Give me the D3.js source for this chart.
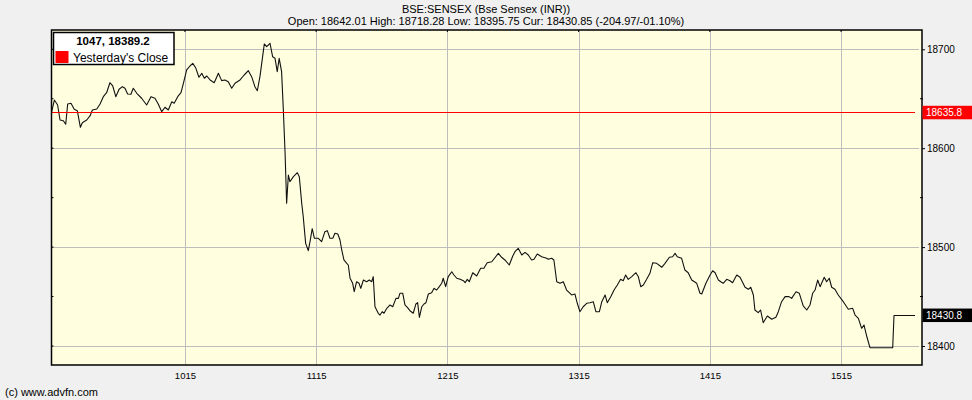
<!DOCTYPE html>
<html><head><meta charset="utf-8">
<script src="https://cdnjs.cloudflare.com/ajax/libs/d3/7.8.5/d3.min.js"></script>
<style>html,body{margin:0;padding:0;background:#f0f0f0;} svg{display:block;font-family:"Liberation Sans",Arial,sans-serif;}</style>
</head><body>
<svg id="c" width="972" height="400"></svg>
<script>
// time in minutes since midnight, value of index
const times = [554.1,555.3,556.8,557.9,559.4,560.5,561.4,562.9,564.4,565.8,567.2,568.1,570.1,571.6,572.7,574.7,576.2,577.7,579.2,580.7,582.0,583.4,584.9,586.4,587.6,588.8,590.3,591.4,593.0,595.2,597.5,599.5,601.3,602.8,604.4,605.9,607.4,609.0,610.1,611.7,613.2,614.3,615.8,617.3,618.6,619.9,621.4,622.7,623.9,625.0,626.5,628.4,630.3,631.8,633.3,634.8,636.4,637.9,640.2,642.1,644.0,645.5,647.0,648.1,649.3,651.3,652.4,653.9,655.1,656.2,657.2,658.1,659.2,660.0,660.8,661.5,662.3,663.0,664.6,666.4,667.3,668.4,669.1,670.2,671.4,672.2,673.2,674.2,676.0,677.5,679.0,680.1,681.3,682.6,683.6,684.9,685.9,686.7,687.7,689.0,689.7,690.5,691.7,692.4,693.5,694.6,695.4,696.6,698.1,699.3,700.4,701.1,701.9,703.4,704.2,705.2,706.0,707.3,708.8,710.0,711.5,712.6,713.3,714.6,715.6,716.7,717.9,719.4,720.6,721.4,722.2,723.3,724.3,725.2,726.3,727.8,728.9,730.1,731.3,732.4,733.1,734.2,735.4,737.0,738.0,739.3,740.8,742.3,743.1,744.1,745.0,746.6,748.4,750.2,751.7,753.2,755.3,758.3,759.8,761.3,763.3,764.9,765.9,767.4,769.0,770.5,772.0,773.5,774.6,776.1,778.1,780.4,781.1,782.7,783.7,785.0,786.5,788.0,789.5,791.8,793.3,794.4,795.6,797.1,798.7,800.2,801.7,802.9,804.5,805.6,807.1,808.1,809.7,811.2,812.7,814.2,815.4,816.5,817.7,819.3,821.2,822.3,823.4,824.6,826.1,827.6,828.9,830.7,833.0,834.5,836.5,838.0,839.1,840.1,842.1,843.6,845.1,846.7,849.0,850.5,851.3,853.2,855.1,856.3,857.4,858.9,860.0,861.1,862.7,864.2,865.4,867.3,868.8,871.1,872.6,873.7,874.9,875.6,877.1,878.2,879.4,881.3,883.3,885.2,886.3,887.8,889.4,891.2,892.4,894.4,895.9,897.7,899.3,900.8,902.0,903.1,904.3,905.4,907.3,908.4,909.6,910.7,912.2,913.7,916.0,918.3,920.3,921.4,922.9,924.4,925.5,926.7,928.2,938.6,939.2,948.8];
const values = [18636.9,18648.7,18643.7,18628.5,18627.8,18624.2,18644.7,18645.4,18639.3,18637.9,18621.1,18625.8,18628.5,18632.6,18638.6,18639.6,18644.7,18652.1,18656.1,18666.2,18662.9,18652.1,18659.6,18662.2,18660.6,18654.8,18654.5,18660.6,18655.5,18650.5,18643.7,18652.1,18650.5,18644.7,18636.9,18641.4,18638.6,18647.0,18645.4,18652.1,18656.1,18665.6,18679.1,18683.1,18685.8,18681.4,18671.7,18675.7,18670.7,18673.0,18669.0,18666.2,18675.7,18668.3,18669.0,18667.2,18660.6,18665.6,18669.0,18674.0,18678.4,18672.3,18662.2,18658.1,18672.3,18705.4,18702.6,18706.1,18692.5,18690.9,18677.4,18690.9,18677.4,18638.6,18594.8,18544.3,18572.9,18566.1,18571.2,18575.2,18571.2,18544.3,18530.7,18503.8,18496.4,18505.5,18518.6,18508.9,18508.9,18505.5,18515.6,18516.6,18508.9,18508.9,18514.0,18513.2,18507.2,18497.1,18487.0,18483.6,18481.9,18468.5,18463.4,18454.9,18465.0,18463.4,18458.3,18466.7,18465.0,18466.7,18465.0,18470.1,18439.7,18433.1,18431.3,18434.7,18433.1,18438.1,18441.5,18439.7,18448.2,18448.2,18453.3,18453.3,18441.5,18439.1,18435.7,18433.1,18442.5,18443.8,18429.0,18439.7,18442.5,18443.8,18452.6,18453.9,18458.3,18456.6,18460.0,18463.4,18468.5,18460.0,18470.1,18475.1,18471.8,18468.5,18467.4,18466.0,18464.0,18467.4,18465.0,18474.1,18470.8,18478.6,18478.6,18484.2,18485.2,18493.7,18489.7,18487.0,18481.9,18491.0,18495.4,18498.8,18492.0,18494.7,18492.0,18487.0,18487.7,18493.0,18490.3,18488.7,18487.7,18488.7,18487.0,18465.0,18463.4,18465.0,18456.6,18451.6,18452.6,18443.2,18434.7,18439.7,18443.2,18443.8,18444.8,18434.7,18434.7,18444.8,18451.6,18443.8,18449.9,18456.6,18461.7,18467.4,18466.0,18471.8,18467.4,18470.1,18474.1,18470.1,18460.0,18461.7,18467.4,18473.5,18484.2,18483.6,18479.6,18483.6,18489.7,18490.3,18493.7,18490.3,18488.7,18476.8,18474.1,18466.7,18463.4,18453.3,18452.6,18463.4,18471.8,18476.1,18474.1,18466.7,18465.0,18463.4,18467.4,18466.0,18464.0,18471.8,18469.5,18459.4,18457.3,18459.4,18451.6,18436.4,18433.7,18436.4,18423.6,18430.3,18427.0,18429.0,18434.7,18444.8,18449.9,18449.9,18448.2,18454.9,18453.3,18440.5,18436.4,18441.5,18453.3,18456.6,18466.7,18460.0,18469.5,18465.0,18468.5,18459.4,18457.3,18451.6,18444.8,18437.1,18438.1,18431.3,18428.0,18417.9,18421.2,18410.1,18398.3,18398.3,18430.8,18430.8];
const xTickTimes = [615, 675, 735, 795, 855, 915];
const xTickLabels = ["1015", "1115", "1215", "1315", "1415", "1515"];
const yTicks = [18400, 18500, 18600, 18700];
const yMinorTicks = [18450, 18550, 18650];
const prevClose = 18635.8;
const lastValue = 18430.8;
const titleText = "BSE:SENSEX (Bse Sensex (INR))";
const subtitleText = "Open: 18642.01 High: 18718.28 Low: 18395.75 Cur: 18430.85 (-204.97/-01.10%)";
const legendTitle = "1047, 18389.2";
const legendLabel = "Yesterday's Close";

const svg = d3.select("#c");
const L = 51.5, R = 922, T = 30, B = 365;
const x = d3.scaleLinear().domain([554, 952]).range([L, R]);
const y = d3.scaleLinear().domain([18380.8, 18719.5]).range([B, T]);
const data = times.map((t, i) => ({t, v: values[i]}));

svg.append("rect").attr("width", 972).attr("height", 400).attr("fill", "#f0f0f0");
svg.append("rect").attr("x", L).attr("y", T).attr("width", R - L).attr("height", B - T).attr("fill", "#ffffe0");

// grid
const g = svg.append("g");
g.selectAll("line.hg").data(yTicks).join("line").attr("class", "hg")
  .attr("x1", L).attr("x2", R - 3).attr("y1", d => Math.round(y(d)) + 0.5).attr("y2", d => Math.round(y(d)) + 0.5)
  .attr("stroke", "#bdbdbd").attr("stroke-width", 1);
g.selectAll("line.vg").data(xTickTimes).join("line").attr("class", "vg")
  .attr("x1", d => Math.round(x(d)) + 0.5).attr("x2", d => Math.round(x(d)) + 0.5).attr("y1", T).attr("y2", B)
  .attr("stroke", "#bdbdbd").attr("stroke-width", 1);

// price line
svg.append("path").datum(data)
  .attr("d", d3.line().x(d => x(d.t)).y(d => y(d.v)))
  .attr("fill", "none").attr("stroke", "#111").attr("stroke-width", 1.1).attr("stroke-linejoin", "round");

// previous close line (on top)
svg.append("line").attr("class", "prev").attr("x1", L).attr("x2", x(times[times.length - 1]))
  .attr("y1", Math.floor(y(prevClose)) + 0.5).attr("y2", Math.floor(y(prevClose)) + 0.5)
  .attr("shape-rendering", "crispEdges")
  .style("stroke", "#ff0000").style("stroke-width", "1px");

// frame
svg.append("rect").attr("x", L).attr("y", T).attr("width", R - L).attr("height", B - T)
  .attr("fill", "none").attr("stroke", "#000").attr("stroke-width", 1.5);

// right axis
const yAxis = d3.axisRight(y).tickValues(yTicks).tickSize(3).tickPadding(2).tickFormat(d3.format("d"));
const ya = svg.append("g").attr("transform", `translate(${R},0)`).call(yAxis);
ya.select(".domain").remove();
ya.selectAll("text").attr("font-size", 10).attr("fill", "#000").attr("font-family", "Liberation Sans, Arial, sans-serif");
ya.selectAll("line").attr("stroke", "#000");
svg.selectAll("line.ymin").data(yMinorTicks).join("line").attr("class", "ymin")
  .attr("x1", R - 2).attr("x2", R + 1).attr("y1", d => y(d)).attr("y2", d => y(d)).attr("stroke", "#000");
// left inner ticks
svg.selectAll("line.ylt").data(yTicks.concat(yMinorTicks)).join("line").attr("class", "ylt")
  .attr("x1", L).attr("x2", L + 2).attr("y1", d => y(d)).attr("y2", d => y(d)).attr("stroke", "#000");

// bottom axis
const xAxis = d3.axisBottom(x).tickValues(xTickTimes).tickSize(0).tickPadding(7)
  .tickFormat((d, i) => xTickLabels[i]);
const xa = svg.append("g").attr("transform", `translate(0,${B})`).call(xAxis);
xa.select(".domain").remove();
xa.selectAll("text").attr("font-size", 9.5).attr("fill", "#000").attr("font-family", "Liberation Sans, Arial, sans-serif");
svg.selectAll("line.xtt").data(xTickTimes).join("line").attr("class", "xtt")
  .attr("x1", d => x(d)).attr("x2", d => x(d)).attr("y1", T).attr("y2", T + 2).attr("stroke", "#000");

// value boxes on right
function valueBox(v, color) {
  const yy = y(v);
  svg.append("rect").attr("x", R + 0.5).attr("y", yy - 7).attr("width", 972 - R).attr("height", 13.5).attr("fill", color);
  svg.append("text").attr("x", R + 4).attr("y", yy + 3.6).attr("font-size", 10).attr("fill", "#fff").text(v.toFixed(1));
}
valueBox(prevClose, "#ff0000");
valueBox(lastValue, "#000");

// titles
svg.append("text").attr("x", 486).attr("y", 13).attr("text-anchor", "middle").attr("font-size", 11).text(titleText);
svg.append("text").attr("x", 486).attr("y", 25).attr("text-anchor", "middle").attr("font-size", 11).text(subtitleText);

// legend
svg.append("rect").attr("x", 53.5).attr("y", 32.5).attr("width", 120.5).attr("height", 32).attr("fill", "#fff").attr("stroke", "#000").attr("stroke-width", 1.5);
svg.append("text").attr("x", 113).attr("y", 45).attr("text-anchor", "middle").attr("font-size", 11.5).attr("font-weight", "bold").text(legendTitle);
svg.append("rect").attr("x", 55.5).attr("y", 51).attr("width", 13).attr("height", 12).attr("fill", "#ff0000");
svg.append("text").attr("x", 73).attr("y", 61.5).attr("font-size", 12).text(legendLabel);

// footer
svg.append("text").attr("x", 5).attr("y", 396).attr("font-size", 11).text("(c) www.advfn.com");
</script>
</body></html>
